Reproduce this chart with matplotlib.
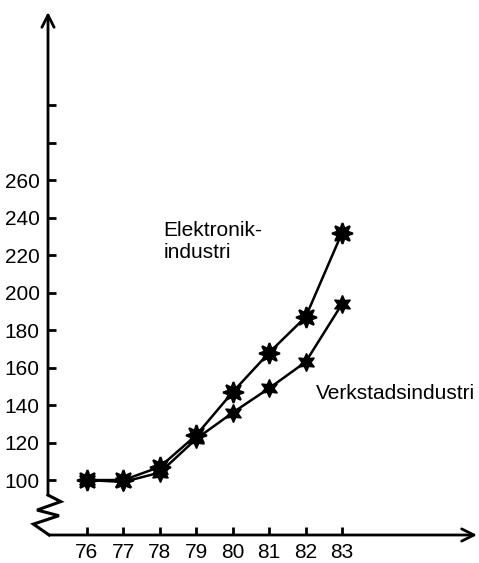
import matplotlib.pyplot as plt

years = [76, 77, 78, 79, 80, 81, 82, 83]
elektronik = [100, 100, 107, 124, 147, 168, 187, 232]
verkstad = [100, 99, 104, 122, 136, 149, 163, 194]

yticks = [100, 120, 140, 160, 180, 200, 220, 240, 260, 280, 300]
ylabels = ['100', '120', '140', '160', '180', '200', '220', '240', '260', '', '']

plt.rcParams['font.family'] = ['Liberation Sans', 'DejaVu Sans']

fig = plt.figure(figsize=(4.79, 5.63), dpi=100)
ax = fig.add_axes([48 / 479, 28 / 563, 429 / 479, 523 / 563])
x0, x1 = 74.93, 86.7
y0, y1 = 70.7, 349.6
ax.set_xlim(x0, x1)
ax.set_ylim(y0, y1)

for s in ax.spines.values():
    s.set_visible(False)

# axes drawn as arrows, y axis broken near the bottom
arrow = dict(arrowstyle='->', lw=2, color='black', mutation_scale=22, shrinkA=0, shrinkB=0)
ax.annotate('', xy=(x0, y1), xytext=(x0, 92), arrowprops=arrow, annotation_clip=False)
ax.annotate('', xy=(x1, y0), xytext=(x0 + 0.03, y0), arrowprops=arrow, annotation_clip=False)
zx = [0.0, 0.35, -0.3, 0.3, -0.4, 0.03]
zy = [92, 88.5, 84, 81, 76.5, 70.7]
ax.plot([x0 + v for v in zx], zy, color='black', lw=2.2, clip_on=False,
        solid_joinstyle='miter')

ax.set_xticks(years)
ax.set_xticklabels([str(y) for y in years])
ax.set_yticks(yticks)
ax.set_yticklabels(ylabels)
ax.tick_params(direction='in', length=6, width=2, labelsize=15, pad=6)

ax.plot(years, elektronik, '-', color='black', lw=1.8, marker=(8, 1, 0), ms=15, mew=1.5,
        clip_on=False)
ax.plot(years, verkstad, '-', color='black', lw=1.8, marker=(6, 1, 0), ms=13, mew=1,
        clip_on=False)

ax.text(78.09, 238, 'Elektronik-\nindustri', fontsize=15, va='top', ha='left', linespacing=1.2)
ax.text(82.29, 146.4, 'Verkstadsindustri', fontsize=15, va='center', ha='left')

plt.savefig('out.png', dpi=100)
